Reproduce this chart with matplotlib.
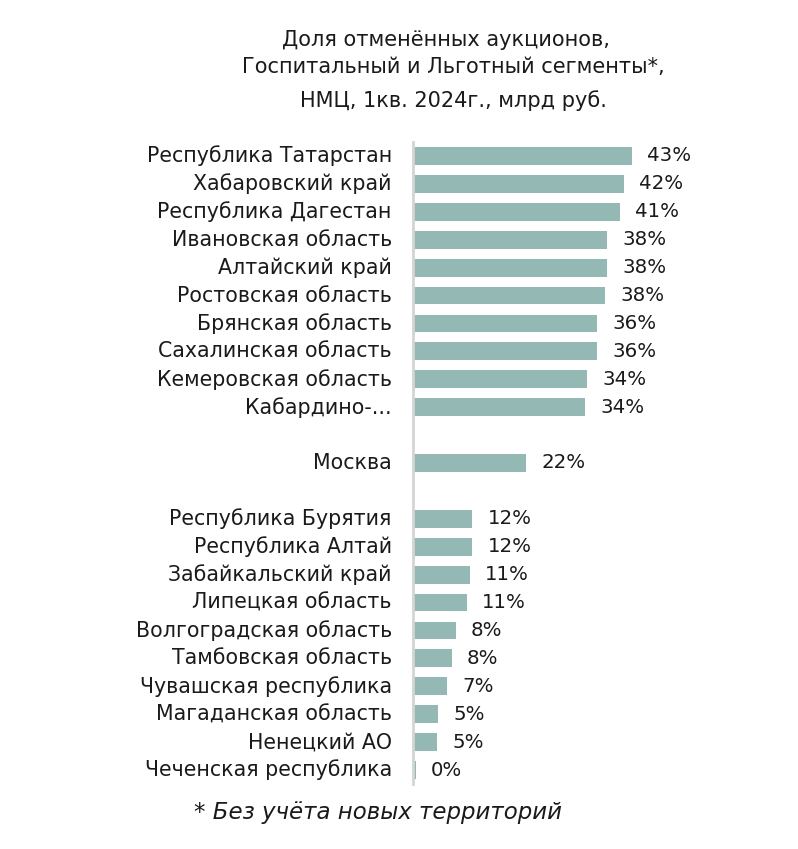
import matplotlib
matplotlib.use("Agg")
import matplotlib.pyplot as plt

plt.rcParams['font.family'] = ['DejaVu Sans']

top_regions = ["Республика Татарстан", "Хабаровский край", "Республика Дагестан",
               "Ивановская область", "Алтайский край", "Ростовская область",
               "Брянская область", "Сахалинская область", "Кемеровская область",
               "Кабардино-..."]
top_values = [43.2, 41.6, 40.8, 38.2, 38.2, 37.8, 36.2, 36.2, 34.3, 33.9]
top_labels = ["43%", "42%", "41%", "38%", "38%", "38%", "36%", "36%", "34%", "34%"]

moscow_region = ["Москва"]
moscow_values = [22.2]
moscow_labels = ["22%"]

bottom_regions = ["Республика Бурятия", "Республика Алтай", "Забайкальский край",
                  "Липецкая область", "Волгоградская область", "Тамбовская область",
                  "Чувашская республика", "Магаданская область", "Ненецкий АО",
                  "Чеченская республика"]
bottom_values = [11.6, 11.6, 11.1, 10.5, 8.3, 7.5, 6.6, 4.8, 4.6, 0.4]
bottom_labels = ["12%", "12%", "11%", "11%", "8%", "8%", "7%", "5%", "5%", "0%"]

bar_color = "#94b8b3"
text_color = "#1a1a1a"

# build row positions with a blank row between groups
names, vals, labs, pos = [], [], [], []
row = 0
for grp_n, grp_v, grp_l in [(top_regions, top_values, top_labels),
                            (moscow_region, moscow_values, moscow_labels),
                            (bottom_regions, bottom_values, bottom_labels)]:
    for n, v, l in zip(grp_n, grp_v, grp_l):
        names.append(n)
        vals.append(v)
        labs.append(l)
        pos.append(row)
        row += 1
    row += 1

fig = plt.figure(figsize=(7.98, 8.49), dpi=100)
W, H = 798, 849
ax = fig.add_axes([413 / W, 1 - 784 / H, 280 / W, (784 - 142) / H])

ax.barh(pos, vals, height=0.64, color=bar_color, left=0.15)
ax.set_ylim(22.5, -0.5)
ax.set_xlim(0, 280 / 5.05)

for p, v, l, n in zip(pos, vals, labs, names):
    ax.text(v + 3.2, p, l, va='center', ha='left', fontsize=14.2, color=text_color)
    ax.text(-4.2, p, n, va='center', ha='right', fontsize=14.8, color=text_color)

for s in ['top', 'right', 'bottom']:
    ax.spines[s].set_visible(False)
ax.spines['left'].set_color('#d4d4d4')
ax.spines['left'].set_linewidth(2)
ax.set_xticks([])
ax.set_yticks([])

fig.text(446 / W, 1 - 40 / H, "Доля отменённых аукционов,", ha='center', va='center',
         fontsize=15, color=text_color)
fig.text(453 / W, 1 - 67 / H, "Госпитальный и Льготный сегменты*,", ha='center', va='center',
         fontsize=15, color=text_color)
fig.text(453 / W, 1 - 101 / H, "НМЦ, 1кв. 2024г., млрд руб.", ha='center', va='center',
         fontsize=15, color=text_color)
fig.text(378 / W, 1 - 812 / H, "* Без учёта новых территорий", ha='center', va='center',
         fontsize=16.5, style='italic', color=text_color)

fig.savefig("out.png", dpi=100)
